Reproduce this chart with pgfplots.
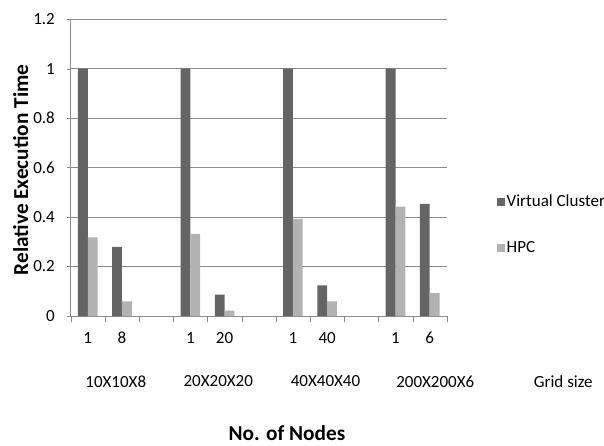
\documentclass[border=0pt]{standalone}
\usepackage{fontspec}
\setmainfont{Carlito}
\usepackage{pgfplots}
\pgfplotsset{compat=1.18}

\definecolor{vcdark}{HTML}{646464}
\definecolor{hpclight}{HTML}{B2B2B2}
\definecolor{gridgray}{HTML}{8C8C8C}

\newcommand{\lblfont}{\fontsize{17bp}{20bp}\selectfont}
\newcommand{\ttlfont}{\fontsize{21.3bp}{24bp}\selectfont\bfseries}

\begin{document}
\begin{tikzpicture}
\useasboundingbox (-70.7bp,-130bp) rectangle (533.3bp,316bp);
\begin{axis}[
  at={(0,0)}, anchor=south west,
  scale only axis, width=376.1bp, height=296.8bp,
  clip=false,
  xmin=-0.5, xmax=10.5, ymin=0, ymax=1.2,
  axis x line*=bottom, axis y line*=left,
  axis line style={draw=gridgray},
  ybar=0pt, bar width=9.8bp,
  xtick={0,1,3,4,6,7,9,10},
  xticklabels={1,8,1,20,1,40,1,6},
  minor xtick={-0.5,0.5,...,10.5},
  ytick={0,0.2,0.4,0.6,0.8,1,1.2},
  tick align=outside,
  major tick length=4bp, minor tick length=6bp,
  major x tick style={draw=none},
  tick style={draw=gridgray},
  minor x tick style={draw=gridgray},
  ymajorgrids, major grid style={draw=gridgray, line width=0.6bp},
  /pgf/number format/assume math mode=true,
  tick label style={font=\lblfont},
  xticklabel style={anchor=center, yshift=-17.8bp},
  yticklabel style={anchor=east, inner sep=0pt, xshift=-15.7bp+4bp},
  every axis y label/.style={at={(axis description cs:-0.1329,0.492)}, rotate=90, anchor=center, font=\ttlfont},
  every axis x label/.style={at={(axis description cs:0.575,-0.396)}, anchor=center, font=\ttlfont},
  ylabel={Relative Execution Time},
  xlabel={No. of Nodes},
  legend style={at={(axis description cs:1.1327,0.308)}, anchor=west, draw=none, fill=none,
    inner sep=0pt, row sep=30bp, column sep=0bp, font=\lblfont, nodes={inner sep=1.5bp}},
  legend cell align=left,
]
\addplot[fill=vcdark, draw=none,
  legend image code/.code={\path[fill=vcdark] (0bp,-4.15bp) rectangle (8.3bp,4.15bp);}]
  coordinates {(0,1) (1,0.279) (3,1) (4,0.086) (6,1) (7,0.124) (9,1) (10,0.453)};
\addlegendentry{Virtual Cluster}
\addplot[fill=hpclight, draw=none,
  legend image code/.code={\path[fill=hpclight] (0bp,-4.15bp) rectangle (8.3bp,4.15bp);}]
  coordinates {(0,0.318) (1,0.059) (3,0.332) (4,0.022) (6,0.393) (7,0.059) (9,0.442) (10,0.092)};
\addlegendentry{HPC}

% grid size row under the node counts
\node[font=\lblfont, anchor=center] at (axis description cs:0.1199,-0.2207) {10X10X8};
\node[font=\lblfont, anchor=center] at (axis description cs:0.3924,-0.2207) {20X20X20};
\node[font=\lblfont, anchor=center] at (axis description cs:0.6775,-0.2207) {40X40X40};
\node[font=\lblfont, anchor=center] at (axis description cs:0.9694,-0.2207) {200X200X6};
\node[font=\lblfont, anchor=center] at (axis description cs:1.3097,-0.2207) {Grid size};
\end{axis}
\end{tikzpicture}
\end{document}
